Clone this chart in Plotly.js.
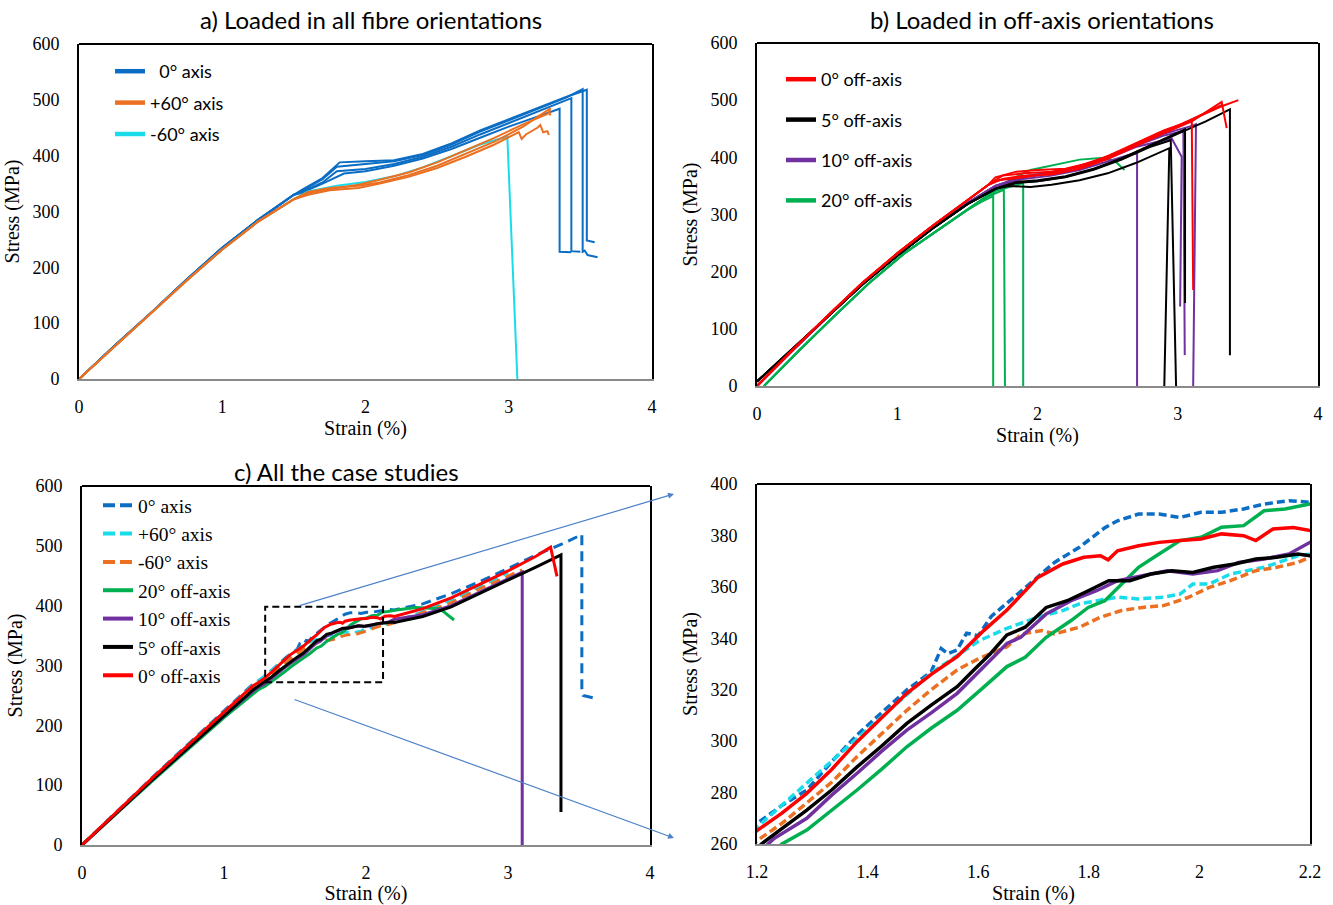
<!DOCTYPE html>
<html>
<head>
<meta charset="utf-8">
<script src="https://cdn.plot.ly/plotly-3.0.1.min.js"></script>
<style>html,body{margin:0;padding:0;background:#fff;}#chart{width:1333px;height:905px;}</style>
</head>
<body>
<div id="chart"></div>
<script>
// ---------------- Panel a: loaded in all fibre orientations ----------------
const aBluePre = [[0,0],[0.25,60],[0.5,118],[0.75,178],[1.0,235],[1.25,285],[1.5,330]];
const aBlue1 = [[1.55,338],[1.7,360],[1.82,388],[2.0,390],[2.2,392],[2.4,403],[2.6,422],[2.8,445],[3.0,465],[3.2,485],[3.4,505],[3.545,518],[3.545,248],[3.6,245]];
const aBlue2 = [[1.55,336],[1.7,358],[1.8,380],[2.0,385],[2.2,390],[2.4,401],[2.6,420],[2.8,443],[3.0,463],[3.2,483],[3.4,504],[3.516,519],[3.516,228],[3.53,230],[3.55,222],[3.62,218]];
const aBlue3 = [[1.55,334],[1.7,352],[1.8,372],[2.0,376],[2.2,385],[2.4,398],[2.6,416],[2.8,438],[3.0,458],[3.2,478],[3.437,503],[3.437,229],[3.5,228]];
const aBlue4 = [[1.55,333],[1.7,350],[1.85,368],[2.0,372],[2.2,382],[2.4,395],[2.6,412],[2.8,432],[3.0,452],[3.2,470],[3.355,484],[3.355,228],[3.437,227]];
const aOrangePre = [[0,0],[0.25,59],[0.5,117],[0.75,176],[1.0,232],[1.25,282],[1.5,322]];
const aOrange1 = [[1.6,335],[1.75,342],[1.95,346],[2.1,352],[2.3,365],[2.5,382],[2.7,403],[2.9,425],[3.1,452],[3.28,483],[3.29,472]];
const aOrange2 = [[1.6,330],[1.75,338],[1.95,342],[2.1,350],[2.3,362],[2.5,378],[2.7,398],[2.9,420],[3.07,442],[3.09,430],[3.12,438],[3.2,450],[3.22,455],[3.24,442],[3.27,444],[3.28,437]];
const aOrange3 = [[1.6,333],[1.75,340],[1.95,348],[2.1,357],[2.3,370],[2.5,388],[2.7,410],[2.9,432],[3.1,456],[3.28,476],[3.29,486]];
const aCyan1 = [[1.6,336],[1.8,346],[2.0,353],[2.2,363],[2.4,379],[2.6,399],[2.8,420],[2.99,434],[3.06,0]];

// ---------------- Panel b: loaded in off-axis orientations ----------------
const bGreenPre = [[0.05,0],[0.3,62],[0.55,122],[0.8,180],[1.05,232],[1.3,275],[1.5,308]];
const bGreen1 = [[1.6,322],[1.684,332],[1.684,0]];
const bGreen2 = [[1.65,332],[1.76,343],[1.768,0]];
const bGreen3 = [[1.7,341],[1.85,352],[1.898,355],[1.898,0]];
const bGreen4 = [[1.7,343],[1.8,360],[1.95,378],[2.1,386],[2.3,396],[2.45,399],[2.55,394],[2.62,378]];
const bPurplePre = [[0,0],[0.25,61],[0.5,120],[0.75,178],[1.0,229],[1.25,276],[1.5,320],[1.7,350]];
const bPurple1 = [[1.9,362],[2.1,368],[2.3,378],[2.5,393],[2.65,404],[2.71,407],[2.71,0]];
const bPurple2 = [[1.9,365],[2.1,372],[2.3,383],[2.5,398],[2.7,418],[2.957,433],[3.028,401],[3.017,139]];
const bPurple3 = [[1.9,366],[2.1,373],[2.3,384],[2.5,399],[2.7,420],[2.9,438],[3.04,446],[3.05,54]];
const bPurple4 = [[1.9,367],[2.1,374],[2.3,385],[2.5,400],[2.7,422],[2.9,441],[3.1,455],[3.13,458],[3.11,0]];
const bBlackPre = [[0,8],[0.25,64],[0.5,120],[0.75,177],[1.0,228],[1.25,275],[1.5,318],[1.7,345]];
const bBlack1 = [[1.8,350],[1.95,348],[2.1,352],[2.3,360],[2.5,372],[2.7,390],[2.94,416],[2.904,0]];
const bBlack2 = [[1.85,355],[2.0,358],[2.2,365],[2.4,378],[2.6,396],[2.8,418],[2.95,430],[2.988,0]];
const bBlack3 = [[1.85,357],[2.0,360],[2.2,367],[2.4,380],[2.6,398],[2.8,420],[3.0,442],[3.052,449],[3.052,145]];
const bBlack4 = [[1.85,356],[2.0,358],[2.2,366],[2.4,379],[2.6,398],[2.8,420],[3.0,442],[3.2,463],[3.372,484],[3.372,54]];
const bRedPre = [[0,0],[0.25,62],[0.5,122],[0.75,180],[1.0,232],[1.25,280],[1.5,325],[1.65,352]];
const bRed1 = [[1.75,368],[1.9,372],[2.1,375],[2.3,383],[2.5,400],[2.7,422],[2.9,443],[3.1,465],[3.3,488],[3.432,500]];
const bRed2 = [[1.75,362],[1.9,368],[2.1,370],[2.3,380],[2.5,397],[2.7,420],[2.9,442],[3.1,463],[3.313,497],[3.349,451]];
const bRed3 = [[1.72,360],[1.9,365],[2.1,372],[2.3,385],[2.5,402],[2.7,425],[2.9,447],[3.05,460],[3.1,464],[3.11,168]];
const bRed4 = [[1.7,365],[1.85,375],[2.0,378],[2.2,380],[2.4,392],[2.6,412],[2.8,435],[3.0,455],[3.2,478],[3.32,492]];

// ---------------- Panels c and d: all the case studies (d = zoom of c) ----------------
const cBlue = [[0,0],[0.5,114],[1.0,224],[1.2,268],[1.245,275],[1.29,281],[1.335,292],[1.381,302.4],[1.425,311],[1.471,319.9],[1.515,327],[1.533,336],[1.545,334],[1.562,335.5],[1.579,342],[1.6,341],[1.624,348.6],[1.652,353.6],[1.7,362.4],[1.738,369.5],[1.783,375.4],[1.829,383],[1.852,385.7],[1.89,388.3],[1.927,388.3],[1.965,387],[2.003,389],[2.04,389],[2.08,390.3],[2.117,392.2],[2.162,393.5],[2.2,392.9],[2.4,403],[2.6,420],[2.8,440],[3.0,462],[3.2,485],[3.4,505],[3.52,519],[3.52,262],[3.53,250],[3.6,246]];
const cCyan = [[0,0],[0.5,113],[1.0,222],[1.2,266.5],[1.381,301],[1.515,326.5],[1.602,339.1],[1.652,343.9],[1.708,348.2],[1.753,350.8],[1.783,353.4],[1.852,356],[1.89,355.3],[1.935,356],[1.965,357.2],[1.988,361.1],[2.018,361.1],[2.056,365],[2.117,367.6],[2.178,372.1],[2.2,372.8],[2.4,390],[2.6,410],[2.8,432],[3.0,455]];
const cOrange = [[0,0],[0.5,112],[1.0,220],[1.2,261.3],[1.245,268],[1.29,275.8],[1.335,284],[1.381,294],[1.425,303],[1.471,312],[1.515,320],[1.562,327.7],[1.6,332],[1.632,335],[1.652,336.7],[1.679,341.7],[1.715,343],[1.738,341.7],[1.783,344.3],[1.821,348.2],[1.859,350.8],[1.897,352],[1.935,352.7],[1.98,355.9],[2.018,359.8],[2.056,362.4],[2.102,366.3],[2.14,367.6],[2.178,369.5],[2.2,371.5],[2.4,388],[2.6,405],[2.8,428],[3.0,450],[3.1,460]];
const cGreen = [[0,0],[0.5,108],[1.0,213],[1.245,260],[1.29,265.4],[1.335,273],[1.381,281],[1.425,289],[1.471,297.8],[1.515,305],[1.562,312],[1.61,321],[1.652,329],[1.685,332.6],[1.723,340.4],[1.768,346.9],[1.799,352],[1.829,354.6],[1.859,361.1],[1.89,367.6],[1.927,372.8],[1.965,378],[2.003,379.3],[2.04,383.2],[2.08,383.8],[2.117,389.6],[2.155,390.3],[2.2,392.2],[2.35,397],[2.52,395],[2.62,376]];
const cPurple = [[0,0],[0.5,110],[1.0,216],[1.23,262],[1.29,270],[1.335,279],[1.381,287.5],[1.425,296],[1.471,304.3],[1.515,311],[1.562,318.6],[1.592,325],[1.622,331.6],[1.652,338],[1.677,340.4],[1.723,349.5],[1.768,354.6],[1.814,358.5],[1.852,362.4],[1.897,364.3],[1.942,366.3],[1.988,365],[2.033,366.3],[2.071,369.5],[2.117,370.8],[2.162,372.8],[2.2,377.3],[2.4,385],[2.6,400],[2.8,422],[3.0,445],[3.1,456],[3.1,0]];
const cBlack = [[0,0],[0.5,110],[1.0,216],[1.208,260],[1.245,266],[1.29,273.2],[1.335,281],[1.381,290],[1.425,298],[1.471,306.9],[1.515,314],[1.562,321.2],[1.592,327.7],[1.622,334],[1.652,341.3],[1.685,344.3],[1.723,352],[1.761,354.6],[1.799,358.5],[1.836,362.4],[1.874,362.4],[1.912,365],[1.95,366.3],[1.988,365.6],[2.026,367.6],[2.064,368.9],[2.102,370.8],[2.14,371.5],[2.178,372.8],[2.2,372.1],[2.4,382],[2.6,398],[2.8,420],[3.0,442],[3.2,465],[3.373,485],[3.373,55]];
const cRed = [[0,0],[0.5,113],[1.0,222],[1.2,265.2],[1.245,272],[1.29,279.7],[1.335,289],[1.381,299.8],[1.425,309],[1.471,318.6],[1.515,326],[1.562,332.9],[1.61,343],[1.652,351],[1.708,363.7],[1.753,368.9],[1.791,371.5],[1.821,372.1],[1.835,370.5],[1.852,374],[1.89,376],[1.927,377.3],[1.965,378],[2.003,378.6],[2.04,380.6],[2.08,379.9],[2.102,378],[2.133,382.5],[2.17,383.1],[2.2,381.9],[2.4,395],[2.6,413],[2.8,435],[3.0,458],[3.2,483],[3.3,497.8],[3.345,449]];

// ---------------- Labels ----------------
const titleA = 'a) Loaded in all fibre orientations';
const titleB = 'b) Loaded in off-axis orientations';
const titleC = 'c) All the case studies';
const legA = ['\u00a0\u00a00° axis', '+60° axis', '-60° axis'];
const legB = ['0° off-axis', '5° off-axis', '10° off-axis', '20° off-axis'];
const legC = ['0° axis', '+60° axis', '-60° axis', '20° off-axis', '10° off-axis', '5° off-axis', '0° off-axis'];
const xTitle = 'Strain (%)';
const yTitle = 'Stress (MPa)';

// ---------------- Styling ----------------
const C = {blue:'#0B6DC3', orange:'#EB7022', cyan:'#19DCEA', red:'#FF0000', black:'#000000', purple:'#7030A0', green:'#00B050', arrow:'#4D80C8'};
const SERIF = '"Liberation Serif", "Times New Roman", serif';
const SANS = 'Lato, "Open Sans", sans-serif';

const traces = [];
function add(pts, xa, ya, color, width, dash, group) {
  traces.push({type:'scatter', mode:'lines', x:pts.map(p=>p[0]), y:pts.map(p=>p[1]), xaxis:xa, yaxis:ya,
    line:{color:color, width:width, dash:dash||'solid'}, showlegend:false, legendgroup:group, hoverinfo:'skip'});
}
function leg(name, color, width, dash, legend, group, xa, ya) {
  traces.push({type:'scatter', mode:'lines', x:[null], y:[null], xaxis:xa, yaxis:ya, name:name,
    line:{color:color, width:width, dash:dash||'solid'}, legend:legend, legendgroup:group, showlegend:true});
}

// panel a
[aBlue1,aBlue2,aBlue3,aBlue4].forEach(t=>add(aBluePre.concat(t),'x','y',C.blue,2,'solid','a0'));
add(aOrangePre.concat(aCyan1),'x','y',C.cyan,2,'solid','a2');
[aOrange1,aOrange2,aOrange3].forEach(t=>add(aOrangePre.concat(t),'x','y',C.orange,2,'solid','a1'));
leg(legA[0],C.blue,4.5,'solid','legend','a0','x','y');
leg(legA[1],C.orange,4.5,'solid','legend','a1','x','y');
leg(legA[2],C.cyan,4.5,'solid','legend','a2','x','y');

// panel b
[bGreen1,bGreen2,bGreen3,bGreen4].forEach(t=>add(bGreenPre.concat(t),'x2','y2',C.green,2,'solid','b3'));
[bPurple1,bPurple2,bPurple3,bPurple4].forEach(t=>add(bPurplePre.concat(t),'x2','y2',C.purple,2,'solid','b2'));
[bBlack1,bBlack2,bBlack3,bBlack4].forEach(t=>add(bBlackPre.concat(t),'x2','y2',C.black,2,'solid','b1'));
[bRed1,bRed2,bRed3,bRed4].forEach(t=>add(bRedPre.concat(t),'x2','y2',C.red,2,'solid','b0'));
leg(legB[0],C.red,4.5,'solid','legend2','b0','x2','y2');
leg(legB[1],C.black,4.5,'solid','legend2','b1','x2','y2');
leg(legB[2],C.purple,4.5,'solid','legend2','b2','x2','y2');
leg(legB[3],C.green,4.5,'solid','legend2','b3','x2','y2');

// panels c and d
const cSeries = [
  [cBlue, C.blue, '10px,6px'], [cCyan, C.cyan, '10px,6px'], [cOrange, C.orange, '10px,6px'],
  [cGreen, C.green, 'solid'], [cPurple, C.purple, 'solid'], [cBlack, C.black, 'solid'], [cRed, C.red, 'solid']
];
cSeries.forEach((s,i)=>{ add(s[0],'x3','y3',s[1],3,s[2],'c'+i); });
cSeries.forEach((s,i)=>{ add(s[0],'x4','y4',s[1],3.5,s[2]==='solid'?'solid':'8px,4px','c'+i); });
cSeries.forEach((s,i)=>{ leg(legC[i],s[1],4,s[2]==='solid'?'solid':'12px,5px','legend3','c'+i,'x3','y3'); });

function xax(domain, range, dtick, anchor) {
  return {domain:domain, range:range, dtick:dtick, anchor:anchor, showgrid:false, zeroline:false, ticks:'',
    showline:true, linecolor:'#8a8a8a', linewidth:2, mirror:false, ticklabelstandoff:10,
    tickfont:{family:SERIF,size:18,color:'#000'},
    title:{text:xTitle, font:{family:SERIF,size:20,color:'#000'}, standoff:5}};
}
function yax(domain, range, dtick, anchor) {
  return {domain:domain, range:range, dtick:dtick, anchor:anchor, showgrid:false, zeroline:false, ticks:'',
    showline:true, linecolor:'#000', linewidth:2, mirror:true, ticklabelstandoff:14,
    tickfont:{family:SERIF,size:18,color:'#000'},
    title:{text:yTitle, font:{family:SERIF,size:20,color:'#000'}, standoff:7}};
}
const W = 1333, H = 905;
const px = v => v / W, py = v => 1 - v / H;

const layout = {
  width:W, height:H, margin:{l:0,r:0,t:0,b:0}, paper_bgcolor:'#fff', plot_bgcolor:'#fff',
  xaxis: xax([px(79),px(652)],[0,4],1,'y'),
  yaxis: yax([py(379),py(44)],[0,600],100,'x'),
  xaxis2: xax([px(757),px(1318)],[0,4],1,'y2'),
  yaxis2: yax([py(386),py(43)],[0,600],100,'x2'),
  xaxis3: xax([px(82),px(650)],[0,4],1,'y3'),
  yaxis3: yax([py(845),py(486)],[0,600],100,'x3'),
  xaxis4: xax([px(757),px(1310)],[1.2,2.2],0.2,'y4'),
  yaxis4: yax([py(844),py(484)],[260,400],20,'x4'),
  legend: {x:px(110), y:py(53), xanchor:'left', yanchor:'top', bgcolor:'rgba(0,0,0,0)', font:{family:SANS,size:18,color:'#000'}, traceorder:'grouped', tracegroupgap:5},
  legend2: {x:px(781), y:py(61), xanchor:'left', yanchor:'top', bgcolor:'rgba(0,0,0,0)', font:{family:SANS,size:18,color:'#000'}, traceorder:'grouped', tracegroupgap:14},
  legend3: {x:px(98), y:py(486), xanchor:'left', yanchor:'top', bgcolor:'rgba(0,0,0,0)', font:{family:SERIF,size:19.5,color:'#000'}, traceorder:'grouped', tracegroupgap:0},
  showlegend:true,
  annotations: [
    {xref:'paper', yref:'paper', x:px(371), y:py(20), text:titleA, showarrow:false, xanchor:'center', yanchor:'middle', font:{family:SANS,size:24,color:'#000'}},
    {xref:'paper', yref:'paper', x:px(1042), y:py(20), text:titleB, showarrow:false, xanchor:'center', yanchor:'middle', font:{family:SANS,size:24,color:'#000'}},
    {xref:'paper', yref:'paper', x:px(347), y:py(471), text:titleC, showarrow:false, xanchor:'center', yanchor:'middle', font:{family:SANS,size:24,color:'#000'}},
    {xref:'paper', yref:'paper', x:px(674), y:py(494), ax:-376, ay:112, axref:'pixel', ayref:'pixel', text:'', showarrow:true, arrowhead:2, arrowsize:1, arrowwidth:1.2, arrowcolor:C.arrow},
    {xref:'paper', yref:'paper', x:px(674), y:py(838), ax:-381, ay:-139, axref:'pixel', ayref:'pixel', text:'', showarrow:true, arrowhead:2, arrowsize:1, arrowwidth:1.2, arrowcolor:C.arrow}
  ],
  shapes: [
    {type:'line', xref:'x domain', yref:'y domain', x0:0, x1:1, y0:1, y1:1, line:{color:'#000', width:2}},
    {type:'line', xref:'x2 domain', yref:'y2 domain', x0:0, x1:1, y0:1, y1:1, line:{color:'#000', width:2}},
    {type:'line', xref:'x3 domain', yref:'y3 domain', x0:0, x1:1, y0:1, y1:1, line:{color:'#000', width:2}},
    {type:'line', xref:'x4 domain', yref:'y4 domain', x0:0, x1:1, y0:1, y1:1, line:{color:'#000', width:2}},
    {type:'rect', xref:'x3', yref:'y3', x0:1.29, x1:2.12, y0:272, y1:398, line:{color:'#000', width:2, dash:'7px,4px'}}
  ]
};

Plotly.newPlot('chart', traces, layout, {staticPlot:true, displayModeBar:false});
</script>
</body>
</html>
